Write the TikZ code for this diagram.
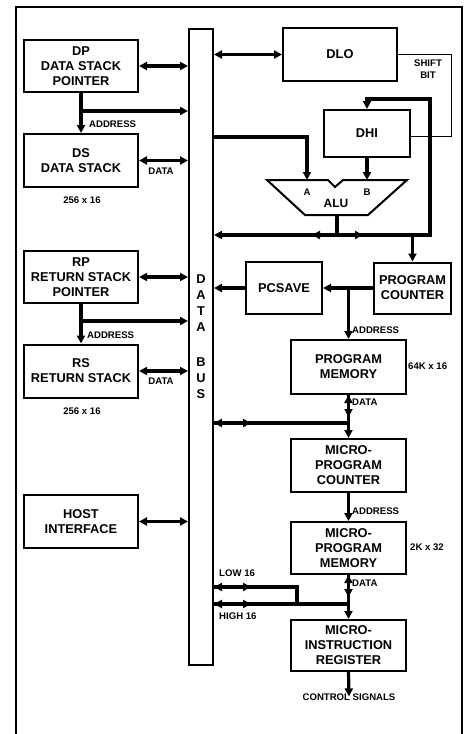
\documentclass[tikz,border=0pt]{standalone}
\usepackage{fontspec}
\setmainfont{Liberation Sans}
\usetikzlibrary{arrows.meta, positioning, calc}

\newcommand{\boxfont}{\fontsize{12.8}{15}\selectfont\bfseries}
\newcommand{\lblfont}{\fontsize{9.6}{12.5}\selectfont\bfseries}

\tikzset{
  unit/.style={draw, line width=2pt, align=center, font=\boxfont, inner sep=0pt},
  wire/.style={line width=3.2pt},
  arr/.style={wire, -{Triangle[length=8pt,width=8pt]}},
  dbl/.style={wire, {Triangle[length=8pt,width=8pt]}-{Triangle[length=8pt,width=8pt]}},
  lbl/.style={font=\lblfont, inner sep=0pt, align=center},
}

\begin{document}
\begin{tikzpicture}[x=1pt, y=-1pt]
  \useasboundingbox (0,0) rectangle (468,734);

  % Frame
  \draw[line width=1.6pt] (16,734) |- (462,7) -- (462,734);

  % Data bus
  \node[draw, line width=2pt, minimum width=24pt, minimum height=636pt, inner sep=0pt] (bus) at (201,347) {};
  \node[font=\fontsize{12.8}{16}\selectfont\bfseries, align=center, inner sep=0pt] (bustext) at (201,337) {D\\A\\T\\A\\[19pt]B\\U\\S};

  % Stacks and host (left)
  \node[unit, minimum width=114pt, minimum height=52pt] (dp) at (81,66) {DP\\DATA STACK\\POINTER};
  \node[unit, minimum width=114pt, minimum height=53pt] (ds) at (81,160.5) {DS\\DATA STACK};
  \node[unit, minimum width=114pt, minimum height=52pt] (rp) at (81,277) {RP\\RETURN STACK\\POINTER};
  \node[unit, minimum width=114pt, minimum height=53pt] (rs) at (81,371) {RS\\RETURN STACK};
  \node[unit, minimum width=114pt, minimum height=53pt] (host) at (81,521.5) {HOST\\INTERFACE};

  \foreach \n in {dp,ds,rp,rs,host}
    \draw[dbl] (\n.east) -- (\n.east -| bus.west);

  \coordinate (dpa) at (81,111);
  \coordinate (rpa) at (81,321);
  \draw[arr] (dp.south) -- (ds.north);
  \draw[arr] (dpa) -- (dpa -| bus.west);
  \draw[arr] (rp.south) -- (rs.north);
  \draw[arr] (rpa) -- (rpa -| bus.west);

  \node[lbl, anchor=west] (dpalbl) at (89,124) {ADDRESS};
  \node[lbl, anchor=west] (rpalbl) at (87,335) {ADDRESS};
  \node[lbl] (dsdlbl) at (161,171) {DATA};
  \node[lbl] (rsdlbl) at (161,381) {DATA};
  \node[lbl] (dssize) at (82,200) {256 x 16};
  \node[lbl] (rssize) at (82,411) {256 x 16};

  % DLO, DHI and ALU
  \node[unit, minimum width=114pt, minimum height=53pt] (dlo) at (340,54.5) {DLO};
  \node[unit, minimum width=86pt, minimum height=47pt] (dhi) at (367,133.5) {DHI};
  \draw[dbl] (bus.east |- dlo.west) -- (dlo.west);
  \draw[line width=0.8pt] (dlo.east) -- ++(53,0) |- ([yshift=-3pt]dhi.east);
  \node[lbl] (shiftlbl) at (428,69) {SHIFT\\BIT};

  \draw[line width=2pt] (267,180) -- (328,180) -- (335,187) -- (343,180) -- (407,180)
    -- (368,215) -- (305,215) -- cycle;
  \coordinate (alua) at (307,180);
  \coordinate (alub) at (367,180);
  \coordinate (aluo) at (337,215);
  \node[lbl] (alualbl) at (307,192) {A};
  \node[lbl] (alublbl) at (367,192) {B};
  \node[font=\fontsize{12}{14}\selectfont\bfseries, inner sep=0pt] (alu) at (336,203) {ALU};

  \coordinate (atap) at (307,137);
  \draw[arr] (atap -| bus.east) -- (atap) -- (alua);
  \draw[arr] (dhi.south) -- (alub);

  \coordinate (aluout) at (337,235);
  \draw[wire] (aluo) -- (aluout);
  \draw[arr] (aluout) -- (aluout -| bus.east);
  \draw[arr] (aluout) -- ++(-25,0);
  \draw[arr] (aluout) -- ++(26,0);
  \draw[arr] (aluout) -| (430,99) -| (dhi.north);

  % Program counter and memory
  \node[unit, minimum width=76pt, minimum height=52pt] (pcsave) at (284,288) {PCSAVE};
  \node[unit, minimum width=77pt, minimum height=51pt] (pc) at (412.5,288) {PROGRAM\\COUNTER};
  \node[unit, minimum width=115pt, minimum height=54pt] (pm) at (348.5,367) {PROGRAM\\MEMORY};
  \draw[arr] (aluout -| pc.north) -- (pc.north);
  \draw[arr] (pc.west) -- (pcsave.east);
  \draw[arr] (pcsave.west) -- (pcsave.west -| bus.east);
  \draw[arr] (pcsave.east -| pm.north) -- (pm.north);
  \node[lbl, anchor=west] (pmalbl) at (352,330) {ADDRESS};
  \node[lbl, anchor=west] (pmsize) at (408,366) {64K x 16};

  % Microprogram
  \node[unit, minimum width=115pt, minimum height=53pt] (mpc) at (348.5,465.5) {MICRO-\\PROGRAM\\COUNTER};
  \node[unit, minimum width=115pt, minimum height=52pt] (mpm) at (348.5,548) {MICRO-\\PROGRAM\\MEMORY};
  \node[unit, minimum width=115pt, minimum height=51pt] (mir) at (348.5,645.5) {MICRO-\\INSTRUCTION\\REGISTER};

  \coordinate (pmj) at (348.5,423);
  \draw[arr] (pm.south) -- (mpc.north);
  \draw[dbl] (pm.south) -- ++(0,22);
  \draw[arr] (pmj) -- (pmj -| bus.east);
  \draw[arr] (pmj -| bus.east) -- ++(37,0);
  \node[lbl, anchor=west] (pmdlbl) at (352,402) {DATA};

  \draw[arr] (mpc.south) -- (mpm.north);
  \node[lbl, anchor=west] (mpcalbl) at (352,511) {ADDRESS};
  \node[lbl, anchor=west] (mpmsize) at (410,547) {2K x 32};

  \coordinate (mpmj) at (348.5,604);
  \coordinate (lowj) at (297,587);
  \draw[arr] (mpm.south) -- (mir.north);
  \draw[dbl] (mpm.south) -- ++(0,22);
  \draw[arr] (mpmj) -- (mpmj -| bus.east);
  \draw[arr] (lowj |- mpmj) -- (lowj) -- (lowj -| bus.east);
  \draw[arr] (lowj -| bus.east) -- ++(37,0);
  \draw[arr] (mpmj -| bus.east) -- ++(37,0);
  \node[lbl, anchor=west] (mpmdlbl) at (352,583) {DATA};
  \node[lbl, anchor=west] (lowlbl) at (219,573) {LOW 16};
  \node[lbl, anchor=west] (highlbl) at (219,616) {HIGH 16};

  \node[lbl] (ctrl) at (349,697) {CONTROL SIGNALS};
  \draw[arr] (mir.south) -- ([yshift=-3pt]ctrl.north);
\end{tikzpicture}
\end{document}
